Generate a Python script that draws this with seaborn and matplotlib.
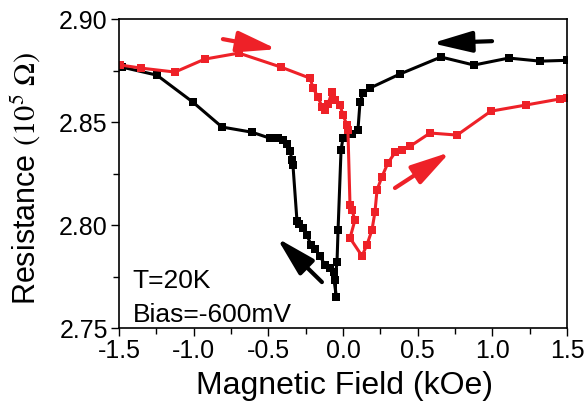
import matplotlib
matplotlib.use("Agg")
import matplotlib.pyplot as plt
import seaborn as sns
import pandas as pd

sns.set_theme(style="ticks")
plt.rcParams["font.family"] = ["Liberation Sans", "DejaVu Sans"]
plt.rcParams["mathtext.fontset"] = "stix"
for k in ["text.color", "axes.labelcolor", "xtick.color", "ytick.color", "axes.edgecolor"]:
    plt.rcParams[k] = "black"

# Increasing sweep (red), -1.5 -> +1.5 kOe
field_up = [-1.49, -1.35, -1.125, -0.925, -0.697, -0.415, -0.22, -0.20, -0.167, -0.14,
            -0.12, -0.10, -0.074, -0.054, -0.02, 0.0, 0.027, 0.033, 0.047, 0.06,
            0.08, 0.047, 0.127, 0.16, 0.194, 0.214, 0.228, 0.26, 0.30, 0.35,
            0.395, 0.45, 0.583, 0.764, 0.99, 1.226, 1.45, 1.5]
res_up = [2.8777, 2.8762, 2.8743, 2.8806, 2.8835, 2.8767, 2.8713, 2.8665, 2.8621, 2.8573,
          2.8558, 2.8587, 2.8646, 2.8607, 2.8583, 2.8534, 2.8485, 2.8461, 2.8097, 2.8073,
          2.8024, 2.7937, 2.785, 2.7903, 2.7976, 2.8063, 2.817, 2.8233, 2.830, 2.8354,
          2.8364, 2.8383, 2.8447, 2.8437, 2.8553, 2.8583, 2.8612, 2.8617]

# Decreasing sweep (black), +1.5 -> -1.5 kOe
field_down = [1.5, 1.32, 1.11, 0.877, 0.656, 0.38, 0.18, 0.134, 0.114, 0.10,
              0.06, 0.0, -0.013, -0.033, -0.04, -0.054, -0.047, -0.06, -0.087, -0.121,
              -0.154, -0.188, -0.214, -0.241, -0.268, -0.295, -0.308, -0.335, -0.342, -0.355,
              -0.375, -0.40, -0.435, -0.49, -0.61, -0.81, -1.005, -1.246, -1.48]
res_down = [2.880, 2.8796, 2.8811, 2.8777, 2.8816, 2.8733, 2.8665, 2.864, 2.8597, 2.846,
            2.8442, 2.8422, 2.8364, 2.7976, 2.782, 2.7733, 2.765, 2.7772, 2.7791, 2.7806,
            2.785, 2.7883, 2.7903, 2.7951, 2.7985, 2.8005, 2.802, 2.8291, 2.8316, 2.836,
            2.8393, 2.8413, 2.8422, 2.8422, 2.8451, 2.8476, 2.8597, 2.8728, 2.8767]

x_ticks = [-1.5, -1.0, -0.5, 0.0, 0.5, 1.0, 1.5]
y_ticks = [2.75, 2.80, 2.85, 2.90]

RED = "#EE2128"
BLACK = "#000000"

df_up = pd.DataFrame({"field": field_up, "res": res_up})
df_down = pd.DataFrame({"field": field_down, "res": res_down})

fig = plt.figure(figsize=(5.86, 4.16), dpi=100)
ax = fig.add_axes([0.203, 0.2115, 0.7646, 0.7425])

sns.lineplot(data=df_down, x="field", y="res", sort=False, estimator=None, ax=ax,
             color=BLACK, lw=2.2, marker="s", markersize=6.3, markeredgewidth=0)
sns.lineplot(data=df_up, x="field", y="res", sort=False, estimator=None, ax=ax,
             color=RED, lw=2.2, marker="s", markersize=6.3, markeredgewidth=0)

ax.set_xlim(-1.5, 1.5)
ax.set_ylim(2.75, 2.90)
ax.set_xticks(x_ticks)
ax.set_xticklabels([f"{v:.1f}" for v in x_ticks])
ax.set_yticks(y_ticks)
ax.set_yticklabels([f"{v:.2f}" for v in y_ticks])
ax.set_xticks([-1.25, -0.75, -0.25, 0.25, 0.75, 1.25], minor=True)
ax.set_yticks([2.775, 2.825, 2.875], minor=True)
ax.tick_params(which="major", direction="out", length=6, width=1, labelsize=18, colors="black", pad=2)
ax.tick_params(which="minor", direction="out", length=4, width=1, colors="black")
for s in ax.spines.values():
    s.set_linewidth(1.2)
    s.set_color("black")

ax.set_xlabel("Magnetic Field (kOe)", fontsize=23)
ax.set_ylabel(r"Resistance $(10^5\ \Omega)$", fontsize=22)
ax.xaxis.set_label_coords(0.504, -0.14)
ax.yaxis.set_label_coords(-0.17, 0.485)

ax.text(0.031, 0.129, "T=20K", transform=ax.transAxes, fontsize=19, ha="left", va="baseline")
ax.text(0.031, 0.019, "Bias=-600mV", transform=ax.transAxes, fontsize=19, ha="left", va="baseline")

def arrow(x0, y0, x1, y1, c):
    ax.annotate("", xy=(x1, y1), xytext=(x0, y0),
                arrowprops=dict(arrowstyle="-|>,head_length=1.2,head_width=0.32",
                                lw=3, color=c, mutation_scale=20, shrinkA=0, shrinkB=0))

arrow(0.998, 2.8893, 0.596, 2.8883, BLACK)
arrow(-0.141, 2.7723, -0.442, 2.7937, BLACK)
arrow(-0.804, 2.8903, -0.442, 2.8854, RED)
arrow(0.348, 2.818, 0.717, 2.8354, RED)

fig.savefig("out.png", dpi=100)
